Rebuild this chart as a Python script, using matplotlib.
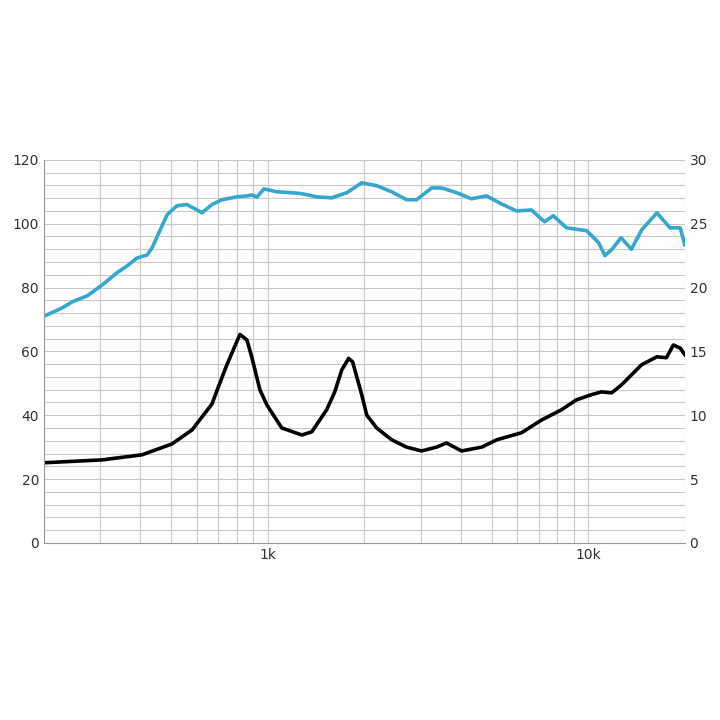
import numpy as np
import matplotlib.pyplot as plt
from matplotlib.ticker import FixedLocator, NullFormatter, MultipleLocator

# frequency response (SPL, left axis units)
spl_freq = [200, 228, 245, 273, 304, 338, 364, 391, 420, 435, 461, 485, 520, 559, 601, 623,
            669, 719, 800, 860, 892, 924, 972, 1067, 1188, 1276, 1421, 1582, 1763, 1963, 2186,
            2434, 2710, 2913, 3244, 3484, 3880, 4320, 4812, 5358, 5966, 6644, 7302, 7775, 8551,
            9888, 10780, 11270, 11860, 12660, 13630, 14670, 16380, 17990, 19370, 20000]
spl_db = [71, 73.6, 75.5, 77.4, 80.8, 84.6, 86.8, 89.3, 90.2, 92.4, 98, 102.8, 105.6, 106,
          104.3, 103.4, 106, 107.5, 108.4, 108.7, 109, 108.3, 110.9, 110, 109.7, 109.4, 108.4,
          108.1, 109.7, 112.8, 111.9, 110, 107.5, 107.5, 111.2, 111.2, 109.7, 107.8, 108.7,
          106.2, 104, 104.3, 100.6, 102.5, 98.7, 97.8, 94, 90, 92, 95.6, 92, 98, 103.4, 98.7,
          98.7, 93.4]

# impedance curve (drawn in left axis units)
imp_freq = [200, 304, 405, 502, 580, 669, 699, 745, 784, 818, 860, 892, 944, 993, 1105, 1276,
            1371, 1526, 1617, 1701, 1787, 1839, 1963, 2036, 2186, 2434, 2710, 3017, 3361, 3610,
            4022, 4650, 5180, 6190, 7150, 8250, 9180, 10210, 10980, 11830, 12700, 14670, 16380,
            17530, 18440, 19370, 20000]
imp_val = [25.1, 26, 27.6, 31, 35.4, 43.5, 48.6, 55.8, 61, 65.3, 63.6, 58, 48, 43.2, 36, 33.8,
           34.8, 41.7, 47.3, 54.2, 57.8, 56.7, 46.4, 40, 36, 32.3, 30, 28.8, 30, 31.3, 28.8,
           30, 32.3, 34.5, 38.5, 41.7, 44.8, 46.4, 47.3, 47, 49.5, 55.8, 58.3, 58, 62, 61, 59]

fig = plt.figure(figsize=(7.2, 7.2), dpi=100)
ax = fig.add_axes([0.061, 0.246, 0.890, 0.532])
ax.set_xscale('log')
ax.set_xlim(200, 20000)
ax.set_ylim(0, 120)

minor = [f * d for d in (100, 1000, 10000) for f in range(2, 10)]
ax.xaxis.set_major_locator(FixedLocator([1000, 10000]))
ax.xaxis.set_minor_locator(FixedLocator(minor))
ax.xaxis.set_minor_formatter(NullFormatter())
ax.set_xticklabels(['1k', '10k'])
ax.yaxis.set_major_locator(MultipleLocator(20))
ax.yaxis.set_minor_locator(MultipleLocator(4))

ax.grid(True, which='both', color='#c8c8c8', linewidth=0.8)
ax.tick_params(which='both', length=0, labelsize=10, colors='#333333')
for s in ('top', 'right'):
    ax.spines[s].set_visible(False)
for s in ('left', 'bottom'):
    ax.spines[s].set_color('#999999')

ax.plot(spl_freq, spl_db, color='#35a6cc', linewidth=2.6, solid_joinstyle='round')
ax.plot(imp_freq, imp_val, color='black', linewidth=2.6, solid_joinstyle='round')

ax2 = ax.twinx()
ax2.set_ylim(0, 30)
ax2.yaxis.set_major_locator(MultipleLocator(5))
ax2.tick_params(length=0, labelsize=10, colors='#333333')
for s in ax2.spines.values():
    s.set_visible(False)

fig.savefig('out.png', dpi=100)
